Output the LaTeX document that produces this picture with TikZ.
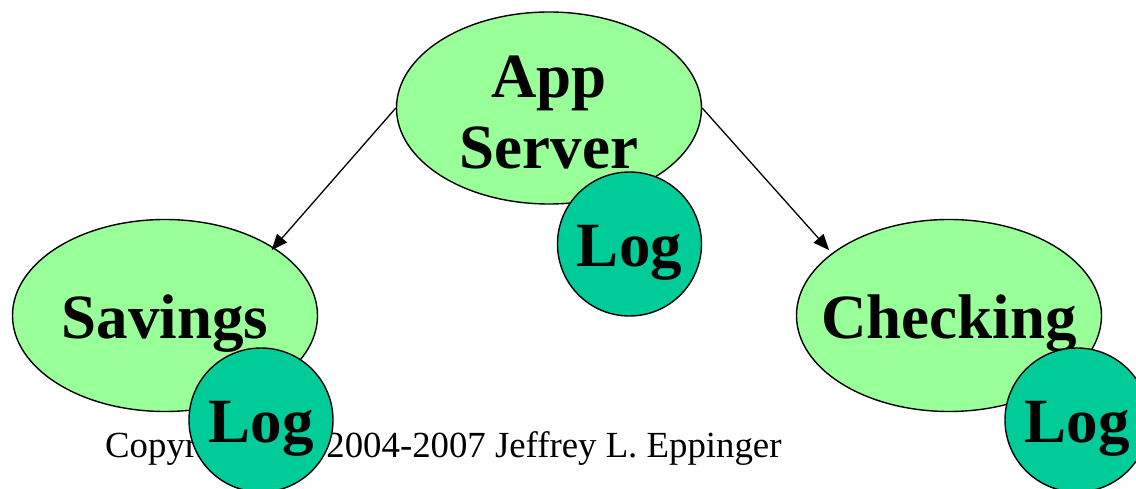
\documentclass[tikz,border=0pt]{standalone}
\usepackage{fontspec}
\setmainfont{Liberation Serif}
\usetikzlibrary{shapes.geometric,arrows.meta}
\definecolor{lightgreen}{HTML}{99FF99}
\definecolor{loggreen}{HTML}{00CC99}
\tikzset{
  svc/.style={ellipse, draw=black, line width=1.4pt, fill=lightgreen,
    minimum width=305pt, minimum height=192pt, inner sep=0pt,
    font=\bfseries\fontsize{63}{68}\selectfont},
  logc/.style={circle, draw=black, line width=1.4pt, fill=loggreen,
    minimum size=144pt, inner sep=0pt, text height=45pt, text depth=0pt,
    font=\bfseries\fontsize{63}{68}\selectfont},
  oneline/.style={text height=45pt, text depth=0pt},
  conn/.style={line width=1.3pt, -{Triangle[length=16pt,width=13pt]}},
}
\begin{document}
\begin{tikzpicture}[x=1pt,y=-1pt]
\useasboundingbox (0,0) rectangle (1136,489);
\clip (0,0) rectangle (1136,489);
% App server
\node[svc, align=center, text height=121pt, text depth=0pt] (app) at (549,108) {App\\[3pt]Server};
\node[logc] (applog) at (629.5,244) {Log};
% Savings
\node[svc, oneline] (sav) at (165,315.5) {\makebox[0pt]{Savings}};
\node[anchor=base west, inner sep=0pt, font=\fontsize{36.8}{42}\selectfont] (copy) at (105,457)
  {Copyright\hspace{22pt}\textcopyright\hspace{22pt}2004-2007 Jeffrey L. Eppinger};
\node[logc] (savlog) at (261,420) {Log};
% Checking
\node[svc, oneline] (chk) at (949,315.5) {\makebox[0pt]{Checking}};
\node[logc] (chklog) at (1077,420) {Log};
% connectors
\draw[conn, shorten >=-3.5pt] (app.west) -- (sav.32);
\draw[conn, shorten >=4pt] (app.east) -- (chk.152);
\end{tikzpicture}
\end{document}
